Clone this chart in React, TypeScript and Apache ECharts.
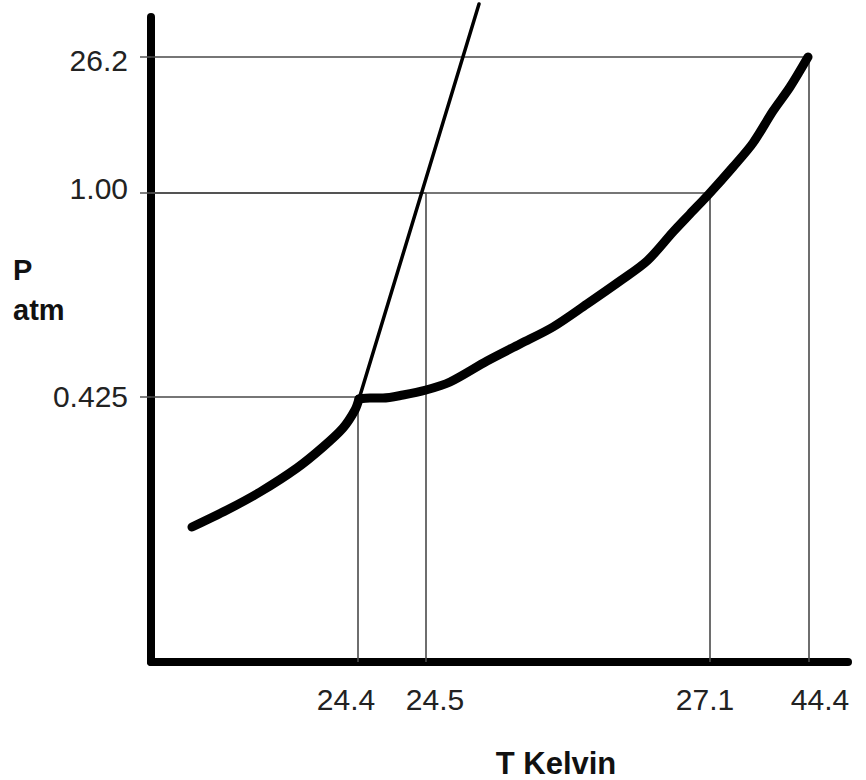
import React, { useEffect, useRef } from "react";
import * as echarts from "echarts";

// Schematic (not-to-scale) phase diagram: positions are in abstract plot units,
// tick labels carry the physical values.
const xGuidePos = [207, 275, 559, 658];
const xTickLabels = ["24.4", "24.5", "27.1", "44.4"];
const xLabelPos = [195, 284, 554, 669];

const yGuidePos = [265, 469, 605];
const yTickLabels = ["0.425", "1.00", "26.2"];
const yLabelPos = [266, 474, 602];

// guide line pairs: [x guide index, y guide index]
const guidePairs = [
  [0, 0],
  [1, 1],
  [2, 1],
  [3, 2],
];

// sublimation curve (thick, below triple point)
const subX = [41, 76, 109, 146, 172, 192, 204, 208];
const subY = [135, 152, 170, 194, 215, 234, 252, 263];

// vaporization curve (thick, triple point to critical point)
const vapX = [208, 219, 232, 252, 275, 299, 336, 369, 402, 436, 469, 496, 522, 539, 558, 582, 602, 622, 639, 657];
const vapY = [263, 264, 264, 267, 272, 280, 301, 318, 335, 358, 381, 401, 430, 448, 468, 495, 519, 551, 575, 605];

// melting line (thin)
const meltX = [208, 328];
const meltY = [263, 658];

const FONT = '"Liberation Sans", Arial, Helvetica, sans-serif';

function findLabel(v: number, pos: number[], labels: string[]) {
  const i = pos.findIndex((p) => Math.abs(p - v) < 0.5);
  return i >= 0 ? labels[i] : "";
}

export default function App() {
  const ref = useRef<HTMLDivElement>(null);

  useEffect(() => {
    if (!ref.current) return;
    const chart = echarts.init(ref.current, undefined, { renderer: "svg" });

    const guideSeries = guidePairs.map(([xi, yi], k) => ({
      type: "line" as const,
      name: "guide" + k,
      silent: true,
      symbol: "none",
      data: [
        [0, yGuidePos[yi]],
        [xGuidePos[xi], yGuidePos[yi]],
        [xGuidePos[xi], 0],
      ],
      lineStyle: { color: "#4a4a4a", width: 1.6 },
      z: 1,
    }));

    const thick = { color: "#000", width: 9, cap: "round", join: "round" };

    chart.setOption({
      animation: false,
      backgroundColor: "#ffffff",
      grid: {
        left: 151,
        top: 17,
        width: 697,
        height: 645,
        containLabel: false,
        outerBoundsMode: "none",
      },
      xAxis: {
        type: "value",
        min: 0,
        max: 697,
        splitLine: { show: false },
        axisLine: {
          show: true,
          lineStyle: { color: "#000", width: 8, cap: "round" },
        },
        axisTick: { show: false },
        axisLabel: {
          customValues: xLabelPos,
          formatter: (v: number) => findLabel(v, xLabelPos, xTickLabels),
          margin: 37,
          verticalAlign: "middle",
          fontSize: 30,
          fontFamily: FONT,
          color: "#222",
        },
      },
      yAxis: {
        type: "value",
        min: 0,
        max: 645,
        splitLine: { show: false },
        axisLine: {
          show: true,
          lineStyle: { color: "#000", width: 8, cap: "round" },
        },
        axisTick: {
          show: true,
          customValues: yGuidePos,
          length: 11,
          lineStyle: { color: "#555", width: 1.5 },
        },
        axisLabel: {
          customValues: yLabelPos,
          formatter: (v: number) => findLabel(v, yLabelPos, yTickLabels),
          margin: 23,
          verticalAlign: "middle",
          fontSize: 30,
          fontFamily: FONT,
          color: "#222",
        },
      },
      graphic: [
        {
          type: "text",
          left: 13,
          top: 250,
          style: {
            text: "P\natm",
            font: `bold 29px ${FONT}`,
            lineHeight: 40,
            fill: "#111",
          },
        },
        {
          type: "text",
          x: 556,
          y: 763,
          style: {
            text: "T Kelvin",
            font: `bold 31px ${FONT}`,
            fill: "#111",
            align: "center",
            verticalAlign: "middle",
          },
        },
      ],
      series: [
        ...guideSeries,
        {
          type: "line",
          name: "melting",
          silent: true,
          symbol: "none",
          clip: false,
          data: meltX.map((x, i) => [x, meltY[i]]),
          lineStyle: { color: "#000", width: 3.5, cap: "round" },
          z: 3,
        },
        {
          type: "line",
          name: "sublimation",
          silent: true,
          symbol: "none",
          smooth: 0.3,
          data: subX.map((x, i) => [x, subY[i]]),
          lineStyle: thick,
          z: 4,
        },
        {
          type: "line",
          name: "vaporization",
          silent: true,
          symbol: "none",
          smooth: 0.3,
          data: vapX.map((x, i) => [x, vapY[i]]),
          lineStyle: thick,
          z: 4,
        },
      ],
    });

    return () => chart.dispose();
  }, []);

  return (
    <div
      ref={ref}
      style={{ position: "absolute", left: 0, top: 0, width: 866, height: 780 }}
    />
  );
}
